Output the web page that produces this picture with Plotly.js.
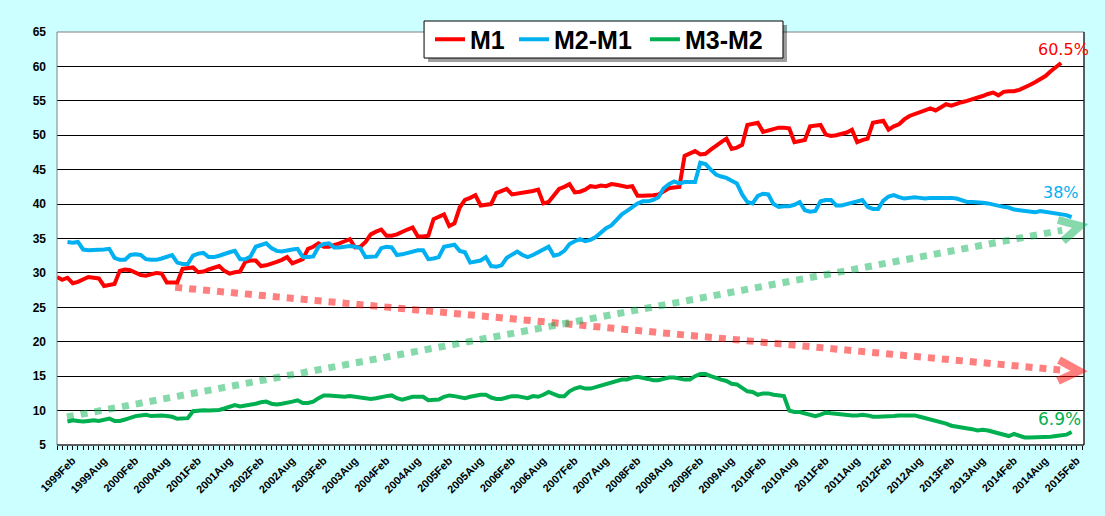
<!DOCTYPE html>
<html>
<head>
<meta charset="utf-8">
<script src="https://cdn.plot.ly/plotly-3.0.1.min.js"></script>
<style>html,body{margin:0;padding:0;background:#CCFFFF;}#chart{width:1105px;height:516px;}</style>
</head>
<body>
<div id="chart"></div>
<script>
// Month categories: index 0 = 1998Dec; M1 series starts at index 0, others at index 2 (1999Feb)
const tickLabels = ["1999Feb","1999Aug","2000Feb","2000Aug","2001Feb","2001Aug","2002Feb","2002Aug",
  "2003Feb","2003Aug","2004Feb","2004Aug","2005Feb","2005Aug","2006Feb","2006Aug","2007Feb","2007Aug",
  "2008Feb","2008Aug","2009Feb","2009Aug","2010Feb","2010Aug","2011Feb","2011Aug","2012Feb","2012Aug",
  "2013Feb","2013Aug","2014Feb","2014Aug","2015Feb"];
const seriesNames = ["M1","M2-M1","M3-M2"];
const m1Start = 0;
const othersStart = 2;

const m1 = [29.4,29.0,29.3,28.5,28.7,29.0,29.4,29.3,29.2,28.1,28.2,28.4,
30.3,30.5,30.4,30.0,29.7,29.6,29.8,30.0,29.9,28.6,28.6,28.6,
30.6,30.7,30.8,30.1,30.2,30.5,30.7,31.0,30.3,29.9,30.1,30.2,
31.6,31.8,31.8,31.0,31.1,31.3,31.6,31.9,32.3,31.4,31.7,32.0,
33.5,33.8,34.3,33.8,33.8,34.0,34.3,34.6,34.9,33.7,33.8,34.5,
35.6,36.0,36.3,35.4,35.4,35.6,36.0,36.3,36.6,35.3,35.3,35.4,
37.8,38.1,38.5,36.8,37.2,39.5,40.6,40.9,41.3,39.8,39.9,40.0,
41.6,41.9,42.2,41.4,41.5,41.6,41.7,41.9,42.1,40.1,40.3,41.2,
42.2,42.5,42.9,41.7,41.8,42.1,42.6,42.5,42.7,42.6,42.9,42.8,
42.7,42.5,42.6,41.2,41.2,41.2,41.3,41.4,41.9,42.3,42.4,42.5,
47.0,47.3,47.7,47.2,47.3,47.9,48.5,49.0,49.5,48.0,48.2,48.6,
51.5,51.7,51.8,50.5,50.7,51.0,51.1,51.1,51.0,49.0,49.1,49.3,
51.3,51.4,51.5,50.1,49.9,50.0,50.2,50.4,50.8,49.0,49.3,49.5,
51.8,51.9,52.1,50.8,51.3,51.6,52.3,52.8,53.1,53.4,53.6,53.9,
53.6,54.0,54.5,54.3,54.6,54.8,55.0,55.2,55.4,55.7,56.0,56.2,
55.8,56.3,56.4,56.4,56.6,56.9,57.3,57.7,58.2,58.6,59.3,59.9,
60.5];

const m2m1 = [34.5,34.4,34.5,33.4,33.3,33.3,33.3,33.4,33.5,32.2,31.9,31.9,
32.6,32.7,32.6,32.0,31.9,31.9,32.1,32.4,32.6,31.5,31.3,31.3,
32.5,32.8,32.9,32.3,32.3,32.5,32.8,33.0,33.2,32.0,32.0,32.4,
33.8,34.1,34.3,33.6,33.2,33.1,33.3,33.4,33.5,32.3,32.3,32.4,
33.8,34.2,34.3,33.7,33.7,33.8,33.9,33.8,33.6,32.3,32.3,32.4,
33.6,33.8,33.7,32.6,32.7,32.9,33.2,33.3,33.3,32.0,32.1,32.3,
33.8,34.0,34.1,33.2,33.0,31.5,31.6,31.8,32.3,31.0,30.9,31.1,
32.2,32.7,33.1,32.6,32.3,32.6,33.0,33.4,33.8,32.5,32.7,33.2,
34.2,34.6,34.9,34.6,34.8,35.2,35.8,36.5,36.9,37.8,38.5,39.0,
39.6,40.1,40.4,40.4,40.6,41.0,42.3,42.9,43.3,43.0,43.2,43.2,
43.2,46.0,45.8,45.0,44.3,44.0,43.8,43.4,43.0,41.4,40.3,40.1,
41.2,41.5,41.4,40.0,39.6,39.7,39.7,39.9,40.3,39.1,38.9,39.0,
40.4,40.6,40.6,39.8,39.8,40.0,40.2,40.4,40.6,39.6,39.3,39.3,
40.5,41.1,41.3,41.0,40.8,40.9,41.0,40.9,40.8,40.9,40.9,41.0,
41.0,40.9,40.8,40.6,40.3,40.3,40.3,40.2,40.1,39.9,39.7,39.6,
39.5,39.2,39.1,39.0,38.9,38.8,39.0,38.9,38.7,38.7,38.6,38.4,
38.1];

const m3m2 = [8.4,8.6,8.5,8.4,8.5,8.6,8.5,8.7,8.85,8.5,8.5,8.7,
9.0,9.2,9.3,9.4,9.2,9.3,9.3,9.2,9.1,8.8,8.8,8.9,
9.9,10.0,10.05,10.0,10.0,10.1,10.3,10.5,10.8,10.6,10.7,10.8,
11.0,11.2,11.3,11.0,10.9,11.0,11.1,11.3,11.5,11.1,11.1,11.3,
11.8,12.2,12.2,12.1,12.0,12.0,12.1,12.0,11.9,11.7,11.7,11.8,
12.0,12.1,12.2,11.8,11.6,11.8,12.0,12.0,12.0,11.5,11.5,11.6,
12.0,12.2,12.1,12.0,11.8,12.0,12.2,12.3,12.3,11.9,11.7,11.7,
11.9,12.1,12.1,12.0,11.8,12.1,12.0,12.3,12.7,12.4,12.1,12.1,
12.8,13.2,13.4,13.2,13.2,13.4,13.6,13.8,14.0,14.2,14.5,14.5,
14.8,14.9,14.8,14.6,14.4,14.4,14.6,14.8,14.8,14.6,14.5,14.5,
15.0,15.3,15.3,15.0,14.7,14.5,14.3,13.9,13.8,13.3,12.8,12.7,
12.3,12.5,12.5,12.3,12.2,12.1,10.0,9.8,9.8,9.6,9.3,9.2,
9.4,9.7,9.6,9.5,9.4,9.3,9.3,9.3,9.4,9.3,9.1,9.1,
9.1,9.2,9.2,9.3,9.3,9.3,9.3,9.1,8.9,8.8,8.6,8.4,
8.1,7.8,7.7,7.6,7.4,7.3,7.1,7.2,7.1,6.9,6.7,6.5,
6.3,6.6,6.3,6.1,6.1,6.1,6.1,6.1,6.2,6.3,6.4,6.5,
6.9];

const endLabels = ["60.5%","38%","6.9%"];
const colors = ["#FF0000","#00B0F0","#00B050"];

const xM1 = m1.map((_, i) => m1Start + i);
const xOthers = m2m1.map((_, i) => othersStart + i);

const nMonths = 197;
const tickvals = [], ticktext = [];
for (let k = 0; k < nMonths; k++) {
  tickvals.push(k);
  const j = (k - othersStart) / 6;
  ticktext.push(Number.isInteger(j) && j >= 0 && j < tickLabels.length ? tickLabels[j] : "");
}

const traces = [
  {x: xM1, y: m1, name: seriesNames[0], type: "scatter", mode: "lines", line: {color: colors[0], width: 4}, legend: "legend"},
  {x: xOthers, y: m2m1, name: seriesNames[1], type: "scatter", mode: "lines", line: {color: colors[1], width: 4}, legend: "legend2"},
  {x: xOthers, y: m3m2, name: seriesNames[2], type: "scatter", mode: "lines", line: {color: colors[2], width: 4}, legend: "legend3"}
];

const redTrend = "rgba(255,0,0,0.5)";
const greenTrend = "rgba(0,176,80,0.48)";
const legendFont = {family: "Liberation Sans, Arial, sans-serif", size: 25, weight: "bold", color: "#000"};
function legendAt(x) {
  return {orientation: "h", x: x, y: 0.9818, xanchor: "left", yanchor: "middle",
          bgcolor: "rgba(0,0,0,0)", borderwidth: 0, font: legendFont, itemwidth: 30};
}

const layout = {
  width: 1105, height: 516,
  paper_bgcolor: "#CCFFFF", plot_bgcolor: "#FFFFFF",
  margin: {l: 57, r: 21, t: 32, b: 71, pad: 0},
  showlegend: true,
  legend: legendAt(0.3632),
  legend2: legendAt(0.4450),
  legend3: legendAt(0.5725),
  xaxis: {
    range: [0, 196.37], tickmode: "array", tickvals: tickvals, ticktext: ticktext,
    ticks: "outside", ticklen: 4, tickcolor: "#000", tickwidth: 1, tickangle: -45,
    ticklabelshift: 5,
    tickfont: {family: "Liberation Sans, Arial, sans-serif", size: 11, weight: "bold", color: "#000"},
    showgrid: false, zeroline: false, showline: false, fixedrange: true
  },
  yaxis: {
    range: [5, 65], tick0: 5, dtick: 5, ticks: "",
    showgrid: true, gridcolor: "#000", gridwidth: 1, zeroline: false, showline: false,
    ticklabelstandoff: 10,
    tickfont: {family: "Liberation Sans, Arial, sans-serif", size: 12, weight: "bold", color: "#000"},
    fixedrange: true
  },
  shapes: [
    {type: "rect", xref: "paper", yref: "paper", x0: 0, x1: 1, y0: 0, y1: 1, line: {color: "#808080", width: 1}, layer: "above"},
    {type: "line", xref: "paper", yref: "paper", x0: 0, x1: 1, y0: 0, y1: 0, line: {color: "#000", width: 1}, layer: "above"},
    {type: "line", xref: "paper", yref: "paper", x0: 1, x1: 1, y0: 0, y1: 1, line: {color: "#000", width: 1}, layer: "above"},
    // trend arrows
    {type: "line", xref: "x", yref: "y", x0: 22.6, y0: 27.9, x1: 191.8, y1: 15.9, line: {color: redTrend, width: 7, dash: "dot"}, layer: "above"},
    {type: "path", xref: "paper", yref: "paper", path: "M 0.9757 0.2058 L 0.9951 0.1792 L 0.9747 0.1550", line: {color: redTrend, width: 8}, layer: "above"},
    {type: "line", xref: "x", yref: "y", x0: 1.9, y0: 9.07, x1: 192.2, y1: 36.2, line: {color: greenTrend, width: 7, dash: "dot"}, layer: "above"},
    {type: "path", xref: "paper", yref: "paper", path: "M 0.9747 0.5448 L 0.9961 0.5303 L 0.9796 0.4939", line: {color: greenTrend, width: 8}, layer: "above"},
    // legend box with shadow
    {type: "rect", xref: "paper", yref: "paper", x0: 0.3613, x1: 0.7108, y0: 0.9274, y1: 1.0169, line: {width: 0}, fillcolor: "rgba(0,0,0,0.38)", layer: "above"},
    {type: "rect", xref: "paper", yref: "paper", x0: 0.3574, x1: 0.7069, y0: 0.9370, y1: 1.0266, line: {color: "#000", width: 1}, fillcolor: "#FFFFFF", layer: "above"}
  ],
  annotations: [
    {xref: "paper", yref: "paper", x: 0.9796, y: 0.9588, xanchor: "center", yanchor: "middle", text: endLabels[0], showarrow: false, font: {family: "DejaVu Sans, Verdana, sans-serif", size: 16, color: colors[0]}},
    {xref: "paper", yref: "paper", x: 0.9776, y: 0.6102, xanchor: "center", yanchor: "middle", text: endLabels[1], showarrow: false, font: {family: "DejaVu Sans, Verdana, sans-serif", size: 16, color: colors[1]}},
    {xref: "paper", yref: "paper", x: 0.9757, y: 0.0630, xanchor: "center", yanchor: "middle", text: endLabels[2], showarrow: false, font: {family: "DejaVu Sans, Verdana, sans-serif", size: 17, color: colors[2]}}
  ]
};

Plotly.newPlot("chart", traces, layout, {displayModeBar: false, staticPlot: true});
</script>
</body>
</html>
